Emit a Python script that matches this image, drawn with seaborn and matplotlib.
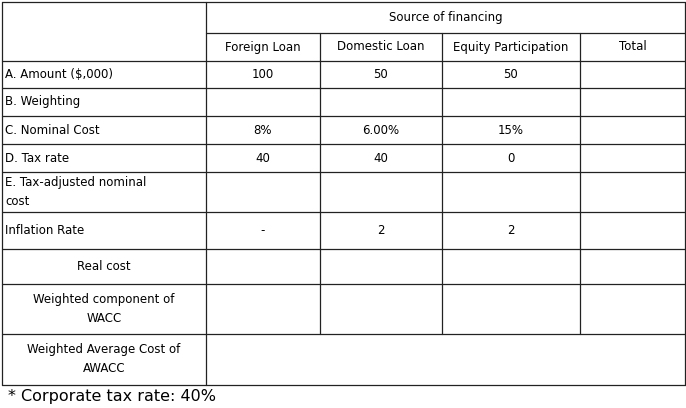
import matplotlib
matplotlib.use("Agg")
import matplotlib.pyplot as plt
import seaborn as sns

sns.set_theme(style="white")
plt.rcParams['font.family'] = ['DejaVu Sans']
plt.rcParams['text.color'] = 'black'

header_top = "Source of financing"
columns = ["Foreign Loan", "Domestic Loan", "Equity Participation", "Total"]
row_labels = ["A. Amount ($,000)", "B. Weighting", "C. Nominal Cost", "D. Tax rate",
              "E. Tax-adjusted nominal\ncost", "Inflation Rate", "Real cost",
              "Weighted component of\nWACC", "Weighted Average Cost of\nAWACC"]
label_align = ["left", "left", "left", "left", "left", "left", "center", "center", "center"]
foreign = ["100", "", "8%", "40", "", "-", "", "", None]
domestic = ["50", "", "6.00%", "40", "", "2", "", "", None]
equity = ["50", "", "15%", "0", "", "2", "", "", None]
total = ["", "", "", "", "", "", "", "", None]
footnote = "* Corporate tax rate: 40%"

col_x = [2, 206, 320, 442, 580, 685]
row_y = [2, 33, 61, 88, 116, 144, 172, 212, 249, 284, 334, 385]

fig = plt.figure(figsize=(6.86, 4.08), dpi=100)
ax = fig.add_axes([0, 0, 1, 1])
ax.set_xlim(0, 686); ax.set_ylim(408, 0); ax.axis("off")
lc = dict(color="#222222", lw=0.9)

ax.plot([col_x[0], col_x[-1]], [row_y[0]] * 2, **lc)
ax.plot([col_x[1], col_x[-1]], [row_y[1]] * 2, **lc)
for y in row_y[2:]:
    ax.plot([col_x[0], col_x[-1]], [y, y], **lc)
ax.plot([col_x[0]] * 2, [row_y[0], row_y[-1]], **lc)
ax.plot([col_x[-1]] * 2, [row_y[0], row_y[-1]], **lc)
ax.plot([col_x[1]] * 2, [row_y[0], row_y[-1]], **lc)
for x in col_x[2:-1]:
    ax.plot([x, x], [row_y[1], row_y[-2]], **lc)

fs = 8.5
ax.text((col_x[1] + col_x[-1]) / 2, (row_y[0] + row_y[1]) / 2, header_top,
        ha="center", va="center", fontsize=fs)
for i, c in enumerate(columns):
    ax.text((col_x[i + 1] + col_x[i + 2]) / 2, (row_y[1] + row_y[2]) / 2, c,
            ha="center", va="center", fontsize=fs)
cols_vals = [foreign, domestic, equity, total]
for r, lab in enumerate(row_labels):
    yc = (row_y[r + 2] + row_y[r + 3]) / 2
    if label_align[r] == "left":
        ax.text(col_x[0] + 3, yc, lab, ha="left", va="center", fontsize=fs, linespacing=1.6)
    else:
        ax.text((col_x[0] + col_x[1]) / 2, yc, lab, ha="center", va="center",
                fontsize=fs, linespacing=1.6)
    for j, vals in enumerate(cols_vals):
        if vals[r]:
            ax.text((col_x[j + 1] + col_x[j + 2]) / 2, yc, vals[r],
                    ha="center", va="center", fontsize=fs)
ax.text(8, 397, footnote, ha="left", va="center", fontsize=11.5)

fig.savefig("out.png", dpi=100, facecolor="white")
